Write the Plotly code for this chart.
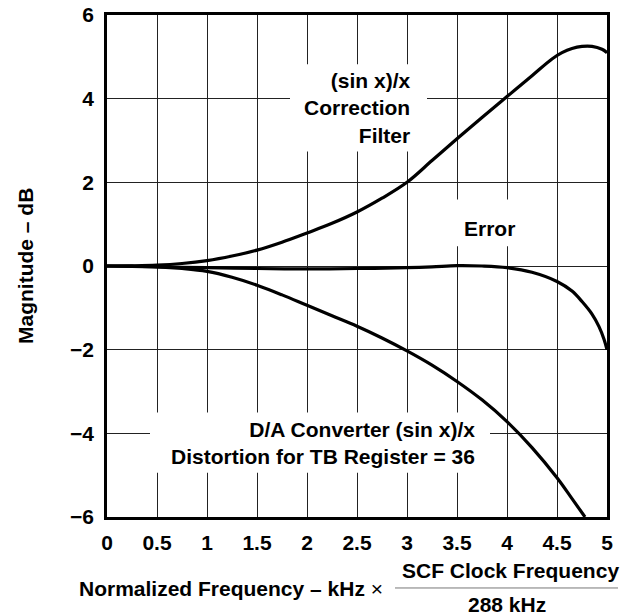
import plotly.graph_objects as go

# curves (normalized frequency, magnitude dB)
filter_x = [0, 0.25, 0.5, 0.75, 1, 1.25, 1.5, 1.75, 2, 2.25, 2.5, 2.75, 3, 3.25, 3.5, 3.75, 4, 4.25, 4.45, 4.55, 4.65, 4.75, 4.85, 4.95, 5]
filter_y = [0, 0.005, 0.02, 0.06, 0.13, 0.24, 0.38, 0.57, 0.79, 1.02, 1.29, 1.62, 2.0, 2.52, 3.04, 3.55, 4.05, 4.55, 4.95, 5.1, 5.2, 5.25, 5.25, 5.18, 5.1]

dac_x = [0, 0.25, 0.5, 0.75, 1, 1.25, 1.5, 1.75, 2, 2.25, 2.5, 2.75, 3, 3.25, 3.5, 3.75, 4, 4.25, 4.5, 4.65, 4.78]
dac_y = [0, -0.005, -0.02, -0.06, -0.13, -0.27, -0.46, -0.69, -0.94, -1.19, -1.44, -1.72, -2.03, -2.37, -2.76, -3.2, -3.72, -4.34, -5.06, -5.56, -6.0]

error_x = [0, 0.5, 1, 1.5, 2, 2.5, 3, 3.25, 3.5, 3.75, 4, 4.25, 4.5, 4.65, 4.75, 4.85, 4.92, 4.97, 5.0]
error_y = [0, -0.02, -0.04, -0.06, -0.07, -0.06, -0.04, -0.02, 0.01, 0.0, -0.04, -0.15, -0.37, -0.6, -0.85, -1.15, -1.45, -1.75, -2.0]

x_ticks = [0, 0.5, 1, 1.5, 2, 2.5, 3, 3.5, 4, 4.5, 5]
x_labels = ["0", "0.5", "1", "1.5", "2", "2.5", "3", "3.5", "4", "4.5", "5"]
y_ticks = [-6, -4, -2, 0, 2, 4, 6]
y_labels = ["\u22126", "\u22124", "\u22122", "0", "2", "4", "6"]

FONT = dict(family="Liberation Sans, Arial, sans-serif", size=21, color="black", weight="bold")

fig = go.Figure()
for xs, ys in [(filter_x, filter_y), (dac_x, dac_y), (error_x, error_y)]:
    fig.add_trace(go.Scatter(x=xs, y=ys, mode="lines", line=dict(color="black", width=3.2, shape="spline", smoothing=1),
                             showlegend=False, hoverinfo="skip"))

# white patches that break the grid behind the labels
for x0, x1, y0, y1 in [(1.83, 3.2, 2.74, 4.82), (3.48, 4.13, 0.47, 1.59), (0.43, 3.83, -4.94, -3.5)]:
    fig.add_shape(type="rect", x0=x0, x1=x1, y0=y0, y1=y1, xref="x", yref="y",
                  fillcolor="white", line=dict(width=0), layer="between")

fig.add_annotation(x=3.06, y=3.77, xref="x", yref="y", xanchor="right", yanchor="middle", align="right",
                   text="(sin x)/x<br>Correction<br>Filter", showarrow=False, font=FONT)
fig.add_annotation(x=3.82, y=0.9, xref="x", yref="y", xanchor="center", yanchor="middle",
                   text="Error", showarrow=False, font=FONT)
fig.add_annotation(x=3.7, y=-4.22, xref="x", yref="y", xanchor="right", yanchor="middle", align="right",
                   text="D/A Converter (sin x)/x<br>Distortion for TB Register = 36", showarrow=False, font=FONT)

# y axis title
fig.add_annotation(x=-0.164, y=0.5, xref="paper", yref="paper", textangle=-90, xanchor="center", yanchor="middle",
                   text="Magnitude \u2013 dB", showarrow=False, font=FONT)

# x axis title with the fraction
fig.add_annotation(x=0.556, y=-0.143, xref="paper", yref="paper", xanchor="right", yanchor="middle",
                   text="Normalized Frequency \u2013 kHz <span style='font-weight:normal'>\u00d7</span>",
                   showarrow=False, font=FONT)
fig.add_annotation(x=0.806, y=-0.107, xref="paper", yref="paper", xanchor="center", yanchor="middle",
                   text="SCF Clock Frequency", showarrow=False, font=FONT)
fig.add_annotation(x=0.8, y=-0.175, xref="paper", yref="paper", xanchor="center", yanchor="middle",
                   text="288 kHz", showarrow=False, font=FONT)
fig.add_shape(type="line", xref="paper", yref="paper", x0=0.576, x1=1.022, y0=-0.1414, y1=-0.1414,
              line=dict(color="#777777", width=1))

axis_common = dict(showline=True, linecolor="black", linewidth=2.5, mirror=True,
                   showgrid=True, gridcolor="#222222", gridwidth=1, zeroline=False, automargin=False,
                   ticks="", tickfont=FONT, ticklabeloverflow="allow", fixedrange=True)

fig.update_xaxes(range=[0, 5], tickvals=x_ticks, ticktext=x_labels, ticklabelstandoff=5, **axis_common)
fig.update_yaxes(range=[-6, 6], tickvals=y_ticks, ticktext=y_labels, ticklabelstandoff=6, **axis_common)

fig.update_layout(width=621, height=615, margin=dict(l=107, r=14, t=15, b=98),
                  plot_bgcolor="white", paper_bgcolor="white", font=FONT)

# drop the default 8px page margin so the figure fills the window
fig.write_html("out.html", config={"displayModeBar": False},
               post_script="document.body.style.margin='0';")
